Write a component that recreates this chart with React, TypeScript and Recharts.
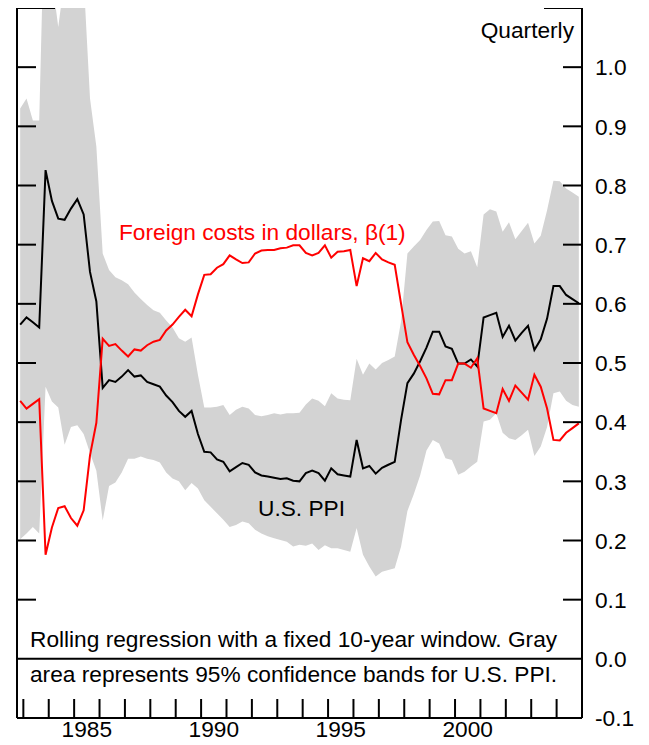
import React from "react";
import { ComposedChart, Area, Line, XAxis, YAxis, ReferenceLine } from "recharts";

// Quarterly observations, first one plotted just before 1983
const FIRST_QUARTER = 1982.875;

const usPpi = [
  0.565, 0.577, 0.569, 0.56, 0.826, 0.774, 0.744, 0.742, 0.761, 0.777,
  0.751, 0.654, 0.604, 0.458, 0.471, 0.468, 0.477, 0.488, 0.477, 0.479,
  0.468, 0.464, 0.46, 0.445, 0.434, 0.419, 0.409, 0.419, 0.38, 0.35,
  0.349, 0.337, 0.333, 0.317, 0.324, 0.331, 0.328, 0.315, 0.31, 0.308,
  0.306, 0.304, 0.305, 0.301, 0.3, 0.314, 0.318, 0.314, 0.301, 0.322,
  0.312, 0.31, 0.308, 0.37, 0.322, 0.326, 0.313, 0.323, 0.328, 0.333,
  0.404, 0.466, 0.482, 0.503, 0.526, 0.553, 0.553, 0.528, 0.524, 0.499,
  0.499, 0.506, 0.494, 0.577, 0.581, 0.585, 0.544, 0.563, 0.538, 0.551,
  0.563, 0.522, 0.54, 0.575, 0.63, 0.63, 0.615, 0.608, 0.601,
];

const foreignCosts = [
  0.436, 0.423, 0.431, 0.439, 0.176, 0.222, 0.255, 0.258, 0.238, 0.225,
  0.251, 0.344, 0.399, 0.541, 0.529, 0.532, 0.521, 0.511, 0.523, 0.521,
  0.53, 0.536, 0.539, 0.555, 0.565, 0.578, 0.59, 0.579, 0.616, 0.649,
  0.65, 0.661, 0.667, 0.682, 0.675, 0.669, 0.67, 0.685, 0.69, 0.691,
  0.691, 0.694, 0.695, 0.699, 0.699, 0.686, 0.682, 0.686, 0.699, 0.678,
  0.688, 0.689, 0.691, 0.63, 0.677, 0.672, 0.686, 0.675, 0.67, 0.666,
  0.6, 0.535, 0.514, 0.495, 0.474, 0.448, 0.447, 0.471, 0.471, 0.499,
  0.499, 0.492, 0.508, 0.423, 0.419, 0.415, 0.456, 0.436, 0.462, 0.45,
  0.438, 0.48, 0.46, 0.423, 0.37, 0.369, 0.382, 0.39, 0.398,
];

const bandUpper = [
  0.93, 0.947, 0.91, 0.91, 1.34, 1.15, 1.068, 1.15, 1.2, 1.2,
  1.15, 0.947, 0.866, 0.685, 0.657, 0.645, 0.64, 0.633, 0.619, 0.608,
  0.598, 0.589, 0.585, 0.572, 0.56, 0.542, 0.536, 0.543, 0.48, 0.425,
  0.425, 0.426, 0.429, 0.412, 0.421, 0.426, 0.423, 0.412, 0.41, 0.412,
  0.415, 0.413, 0.415, 0.415, 0.416, 0.43, 0.44, 0.436, 0.427, 0.449,
  0.44, 0.438, 0.437, 0.507, 0.48, 0.499, 0.489, 0.5, 0.505, 0.511,
  0.57, 0.685, 0.697, 0.708, 0.725, 0.739, 0.74, 0.716, 0.714, 0.693,
  0.685, 0.689, 0.662, 0.751, 0.76, 0.756, 0.722, 0.738, 0.709, 0.723,
  0.737, 0.702, 0.715, 0.758, 0.808, 0.807, 0.795, 0.788, 0.781,
];

const bandLower = [
  0.202, 0.212, 0.223, 0.212, 0.46, 0.435, 0.425, 0.362, 0.392, 0.395,
  0.38, 0.348, 0.318, 0.234, 0.292, 0.298, 0.315, 0.338, 0.338, 0.342,
  0.338, 0.336, 0.332, 0.315, 0.305, 0.3, 0.285, 0.297, 0.288, 0.268,
  0.257, 0.246, 0.235, 0.223, 0.226, 0.232, 0.229, 0.218, 0.212, 0.207,
  0.204, 0.201, 0.198, 0.19, 0.193, 0.191, 0.195, 0.184, 0.192, 0.187,
  0.187, 0.184, 0.181, 0.221, 0.176, 0.156, 0.139, 0.147, 0.15, 0.153,
  0.19, 0.25, 0.278, 0.31, 0.352, 0.37, 0.364, 0.339, 0.336, 0.311,
  0.316, 0.325, 0.333, 0.401, 0.404, 0.415, 0.382, 0.373, 0.37, 0.378,
  0.387, 0.343, 0.359, 0.392, 0.449, 0.452, 0.436, 0.429, 0.426,
];

const yTicks = [1.1, 1.0, 0.9, 0.8, 0.7, 0.6, 0.5, 0.4, 0.3, 0.2, 0.1, 0.0, -0.1];
const yearTicks = [
  1983, 1984, 1985, 1986, 1987, 1988, 1989, 1990, 1991, 1992, 1993,
  1994, 1995, 1996, 1997, 1998, 1999, 2000, 2001, 2002, 2003, 2004,
];
const yearLabels = [1985, 1990, 1995, 2000];

const data = usPpi.map((v, i) => ({
  t: FIRST_QUARTER + i * 0.25,
  ppi: v,
  foreign: foreignCosts[i],
  band: [bandLower[i], bandUpper[i]],
}));

// integer ticks get a tick mark, the .5 ones carry the year label
const xTicks = [...yearTicks, ...yearLabels.map((y) => y + 0.5)];
const X_DOMAIN = [1982.75, 2005];

const FONT = "'Liberation Sans', Arial, Helvetica, sans-serif";
const FS = 22.7;
const W = 641;
const H = 737;

const RightTick = ({ x, y, payload }: any) => {
  const v = payload.value;
  const len = v > 1.05 ? 38 : 19;
  const showLine = v > 0.05;
  return (
    <g>
      {showLine && <line x1={x - len} x2={x} y1={y} y2={y} stroke="#000" strokeWidth={2} />}
      {v < 1.05 && (
        <text x={x + 13} y={y} dy="0.36em" fontSize={FS} fontFamily={FONT} fill="#000">
          {v.toFixed(1)}
        </text>
      )}
    </g>
  );
};

const LeftTick = ({ x, y, payload }: any) => {
  const v = payload.value;
  if (v < 0.05) return <g />;
  const len = v > 1.05 ? 38 : 19;
  return <line x1={x} x2={x + len} y1={y} y2={y} stroke="#000" strokeWidth={2} />;
};

const YearTick = ({ x, y, payload }: any) => {
  const v = payload.value;
  if (Number.isInteger(v)) {
    return <line x1={x} x2={x} y1={y} y2={y - 19} stroke="#000" strokeWidth={2} />;
  }
  return (
    <text x={x} y={y + 19} textAnchor="middle" fontSize={FS} fontFamily={FONT} fill="#000">
      {Math.floor(v)}
    </text>
  );
};

const textStyle = { fontSize: FS, fontFamily: FONT };

export default function App() {
  return (
    <div style={{ position: "relative", width: W, height: H }}>
      <ComposedChart width={W} height={H} data={data} margin={{ top: 0, right: 0, bottom: 0, left: 8 }}>
        <Area
          yAxisId="right"
          dataKey="band"
          type="linear"
          stroke="none"
          fill="#d3d3d3"
          fillOpacity={1}
          isAnimationActive={false}
        />
        <Line
          yAxisId="right"
          dataKey="ppi"
          type="linear"
          stroke="#000"
          strokeWidth={2}
          dot={false}
          isAnimationActive={false}
        />
        <Line
          yAxisId="right"
          dataKey="foreign"
          type="linear"
          stroke="#ff0000"
          strokeWidth={2}
          dot={false}
          isAnimationActive={false}
        />
        <ReferenceLine yAxisId="right" y={0} stroke="#000" strokeWidth={2} />
        <ReferenceLine yAxisId="right" x={X_DOMAIN[0]} stroke="#000" strokeWidth={2} />
        <XAxis
          dataKey="t"
          type="number"
          domain={X_DOMAIN}
          allowDataOverflow
          ticks={xTicks}
          interval={0}
          tick={<YearTick />}
          tickLine={false}
          tickSize={0}
          tickMargin={0}
          height={27}
          axisLine={{ stroke: "#000", strokeWidth: 2 }}
        />
        <YAxis
          yAxisId="left"
          orientation="left"
          domain={[-0.1, 1.1]}
          allowDataOverflow
          ticks={yTicks}
          interval={0}
          width={1}
          tick={<LeftTick />}
          tickLine={false}
          tickSize={0}
          tickMargin={0}
          axisLine={{ stroke: "#000", strokeWidth: 2 }}
        />
        <YAxis
          yAxisId="right"
          orientation="right"
          domain={[-0.1, 1.1]}
          allowDataOverflow
          ticks={yTicks}
          interval={0}
          width={67}
          tick={<RightTick />}
          tickLine={false}
          tickSize={0}
          tickMargin={0}
          axisLine={{ stroke: "#000", strokeWidth: 2 }}
        />
      </ComposedChart>
      <svg
        width={W}
        height={H}
        style={{ position: "absolute", left: 0, top: 0, pointerEvents: "none" }}
      >
        <text x={566} y={30} textAnchor="end" {...textStyle} fill="#000">
          Quarterly
        </text>
        <text x={111} y={232} {...textStyle} fill="#ff0000">
          Foreign costs in dollars, β(1)
        </text>
        <text x={250} y={508} {...textStyle} fill="#000">
          U.S. PPI
        </text>
        <text x={22} y={639} {...textStyle} fill="#000">
          Rolling regression with a fixed 10-year window. Gray
        </text>
        <text x={22} y={674} {...textStyle} fill="#000">
          area represents 95% confidence bands for U.S. PPI.
        </text>
      </svg>
    </div>
  );
}
